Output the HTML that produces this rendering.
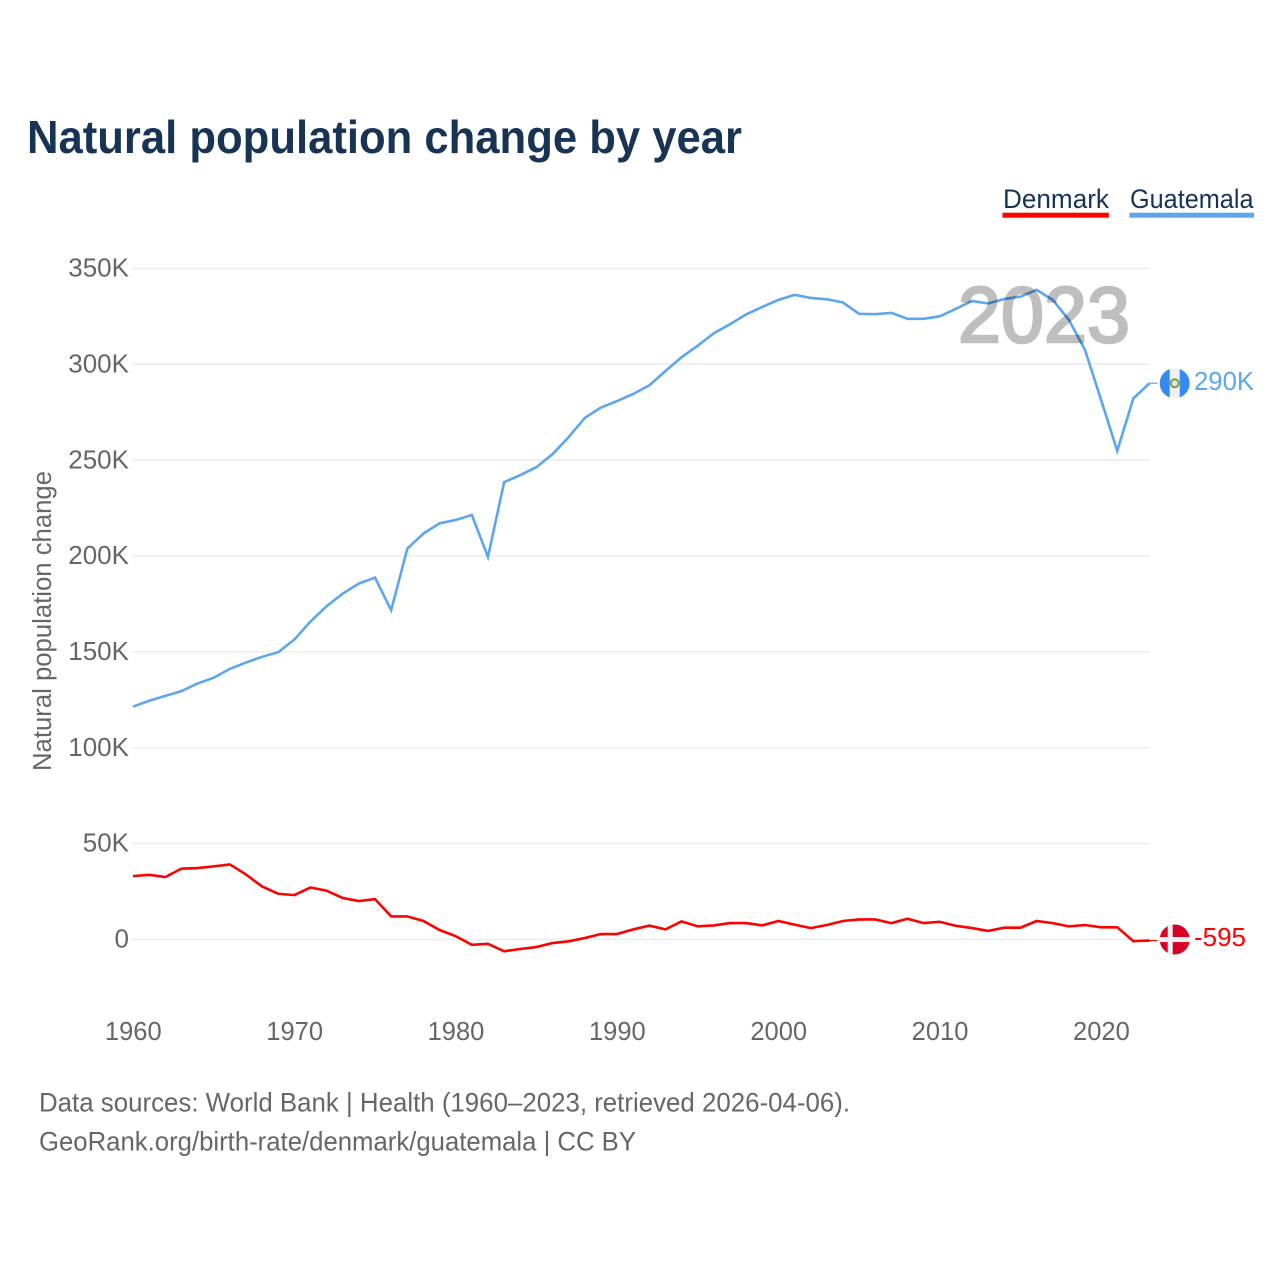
<!DOCTYPE html>
<html lang="en">
<head>
<meta charset="utf-8">
<title>Natural population change by year</title>
<style>
html,body{margin:0;padding:0;background:#fff;}
svg{display:block;font-family:"Liberation Sans",sans-serif;}
</style>
</head>
<body>
<svg id="chart" width="1280" height="1280" viewBox="0 0 1280 1280" xmlns="http://www.w3.org/2000/svg">
  <defs>
    <clipPath id="flag-clip"><circle cx="0" cy="0" r="15"></circle></clipPath>
  </defs>
  <rect width="1280" height="1280" fill="#fff"></rect>
  <text x="27" y="153" font-size="46" font-weight="700" fill="#173454" textLength="715" lengthAdjust="spacingAndGlyphs">Natural population change by year</text>

  <g>
    <g>
      <text x="1003" y="208" font-size="26.5" fill="#173454" textLength="106" lengthAdjust="spacingAndGlyphs">Denmark</text>
      <rect x="1002.5" y="212.7" width="106.3" height="5" fill="#ff0000"></rect>
    </g>
    <g>
      <text x="1130" y="208" font-size="26.5" fill="#173454" textLength="123.5" lengthAdjust="spacingAndGlyphs">Guatemala</text>
      <rect x="1129.5" y="212.7" width="124.5" height="5" fill="#5ca6ee"></rect>
    </g>
  </g>

  <g id="grid"></g>
  <g id="y-ticks"></g>
  <g id="x-ticks"></g>
  <text transform="translate(51 621) rotate(-90)" text-anchor="middle" font-size="25.5" fill="#666" textLength="300" lengthAdjust="spacingAndGlyphs">Natural population change</text>

  <g id="series"></g>

  <g opacity="0.25">
    <text x="958" y="342" font-size="79" font-weight="400" fill="#000" stroke="#000" stroke-width="2.6" textLength="172" lengthAdjust="spacingAndGlyphs">2023</text>
  </g>

  <g id="flag-guatemala" clip-path="url(#flag-clip)">
    <rect x="-15" y="-15" width="30" height="30" fill="#f0f0f0"></rect>
    <rect x="-15" y="-15" width="10" height="30" fill="#338af3"></rect>
    <rect x="5" y="-15" width="10" height="30" fill="#338af3"></rect>
    <circle cx="0" cy="0" r="4" fill="#e4e4d0" stroke="#6da544" stroke-width="2"></circle>
  </g>
  <g id="flag-denmark" clip-path="url(#flag-clip)">
    <rect x="-15" y="-15" width="30" height="30" fill="#d80027"></rect>
    <rect x="-7" y="-15" width="5" height="30" fill="#f0f0f0"></rect>
    <rect x="-15" y="-2.5" width="30" height="5" fill="#f0f0f0"></rect>
  </g>
  <text id="end-guatemala" x="1194" font-size="25.5" fill="#5ca6ee" textLength="60" lengthAdjust="spacingAndGlyphs"></text>
  <text id="end-denmark" x="1194" font-size="25.5" fill="#ff0000" textLength="52" lengthAdjust="spacingAndGlyphs"></text>

  <g>
    <text x="39" y="1111.5" font-size="26.5" fill="#666" textLength="811" lengthAdjust="spacingAndGlyphs">Data sources: World Bank | Health (1960–2023, retrieved 2026-04-06).</text>
    <text x="39" y="1150.5" font-size="26.5" fill="#666" textLength="597" lengthAdjust="spacingAndGlyphs">GeoRank.org/birth-rate/denmark/guatemala | CC BY</text>
  </g>
</svg>
<script>
const startYear = 1960;
const guatemalaValues = [
  121400,124500,127000,129500,133500,136500,141100,144400,147400,149800,
  156400,165800,173800,180400,185600,188700,171700,203800,211700,217000,
  218800,221400,199500,238500,242200,246300,253100,262000,272000,277400,
  280800,284500,289000,296500,303700,309700,316200,320900,326000,329900,
  333600,336200,334600,333900,332200,326300,326100,326800,323700,323700,
  325000,328900,333000,331700,334000,335300,338800,333600,323200,307500,
  281400,254900,282200,290100
];
const denmarkValues = [
  33000,33700,32500,36900,37200,38100,39100,33900,27600,23800,
  23100,27100,25400,21600,20000,21000,12000,12000,9600,4900,
  1700,-2800,-2300,-6200,-5000,-4000,-1900,-1000,700,2800,
  2800,5200,7200,5200,9400,6800,7300,8500,8500,7300,
  9600,7700,5900,7500,9600,10400,10400,8500,10800,8500,
  9200,7100,5900,4400,6100,6100,9600,8500,6800,7500,
  6300,6300,-900,-595
];
const yTickValues = [0,50000,100000,150000,200000,250000,300000,350000];
const yTickLabels = ["0","50K","100K","150K","200K","250K","300K","350K"];
const xTickYears = [1960,1970,1980,1990,2000,2010,2020];
const endLabels = ["290K","-595"];

const NS = "http://www.w3.org/2000/svg";
function xScale(year){ return 133 + (year - startYear) * 16.135; }
function yScale(v){ return 939.4 - v * (671 / 350000); }
function make(tag, attrs){
  const el = document.createElementNS(NS, tag);
  for (const k in attrs) el.setAttribute(k, attrs[k]);
  return el;
}

const grid = document.getElementById("grid");
const yTicks = document.getElementById("y-ticks");
yTickValues.forEach(function(v, i){
  const line = make("line", {x1:132.5, x2:1149.5, y1:yScale(v), y2:yScale(v), stroke:"#ebebeb", "stroke-width":1.4});
  
  
  grid.appendChild(line);
  const t = make("text", {x:129, y:yScale(v)+8.2, "text-anchor":"end", "font-size":26, fill:"#666"});
  
  
  t.textContent = yTickLabels[i];
  yTicks.appendChild(t);
});

const xTicks = document.getElementById("x-ticks");
xTickYears.forEach(function(year){
  const t = make("text", {x:xScale(year)+0.3, y:1040, "text-anchor":"middle", "font-size":25.5, fill:"#666"});
  
  
  t.textContent = String(year);
  xTicks.appendChild(t);
});

function pathFor(values){
  return values.map(function(v, i){
    return (i ? "L" : "M") + xScale(startYear + i).toFixed(2) + " " + yScale(v).toFixed(2);
  }).join(" ");
}

const series = document.getElementById("series");
const denmarkLine = make("path", {d:pathFor(denmarkValues), fill:"none", stroke:"#ff0000", "stroke-width":2.6, "stroke-linejoin":"miter"});


series.appendChild(denmarkLine);

const guatemalaLine = make("path", {d:pathFor(guatemalaValues), fill:"none", stroke:"#5ca6ee", "stroke-width":2.6, "stroke-linejoin":"miter"});


series.appendChild(guatemalaLine);

const lastYear = startYear + guatemalaValues.length - 1;
const gy = yScale(guatemalaValues[guatemalaValues.length - 1]);
const dy = yScale(denmarkValues[denmarkValues.length - 1]);
const endX = xScale(lastYear);

const gConn = make("line", {x1:endX, x2:endX+8, y1:gy, y2:gy, stroke:"#5ca6ee", "stroke-width":1.2});


series.appendChild(gConn);

const dConn = make("line", {x1:endX, x2:endX+8, y1:dy, y2:dy, stroke:"#ff0000", "stroke-width":1.2});


series.appendChild(dConn);

document.getElementById("flag-guatemala").setAttribute("transform", "translate(1174.7 " + gy.toFixed(2) + ")");
document.getElementById("flag-denmark").setAttribute("transform", "translate(1174.7 " + (dy - 1).toFixed(2) + ")");

const endG = document.getElementById("end-guatemala");
endG.setAttribute("y", (gy + 6.8).toFixed(2));
endG.textContent = endLabels[0];
const endD = document.getElementById("end-denmark");
endD.setAttribute("y", (dy + 5.3).toFixed(2));
endD.textContent = endLabels[1];
</script>
</body>
</html>
